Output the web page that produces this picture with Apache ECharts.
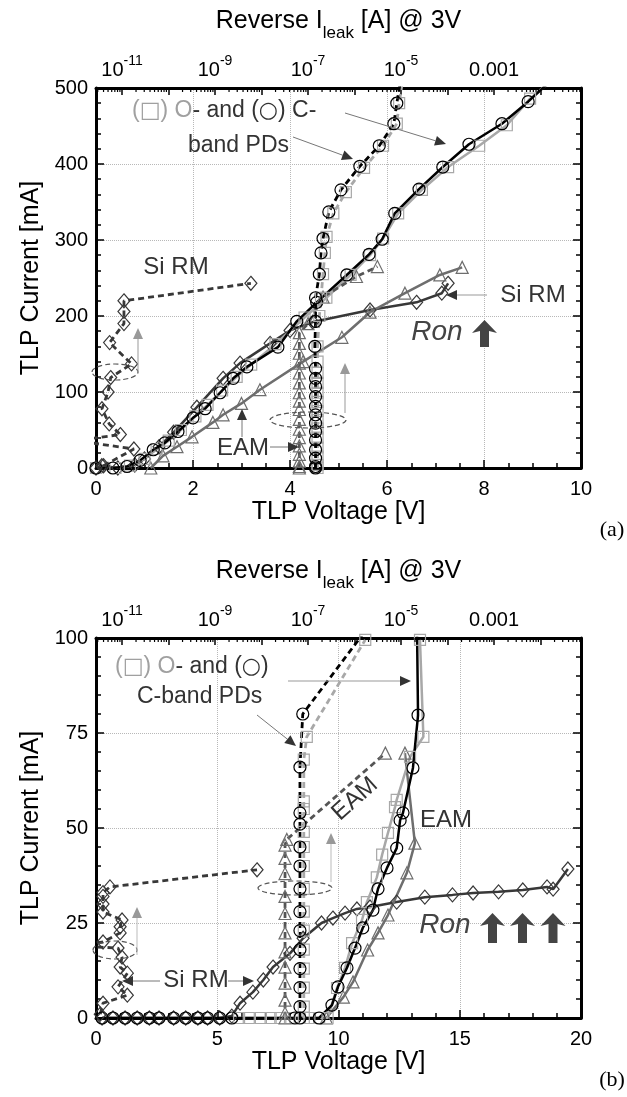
<!DOCTYPE html>
<html>
<head>
<meta charset="utf-8">
<title>TLP I-V and reverse leakage</title>
<script src="https://cdn.jsdelivr.net/npm/echarts@6/dist/echarts.min.js"></script>
<style>
  html, body { margin: 0; padding: 0; background: #fff; }
  #chart { width: 627px; height: 1097px; }
</style>
</head>
<body>
<div id="chart"></div>
<script>
// ---- (a) TLP I-V, volts / mA ----
var cIvV_a = [0, 0.35, 0.64, 0.91, 1.18, 1.42, 1.69, 2.0, 2.25, 2.56, 2.83, 3.11, 3.75, 4.14, 4.55, 5.17, 5.63, 5.9, 6.16, 6.66, 7.15, 7.69, 8.37, 8.91, 9.3];
var cIvI_a = [0, 0, 2, 10, 24, 33, 48, 66, 78, 99, 118, 133, 159, 193, 218, 254, 281, 301, 335, 367, 396, 426, 453, 482, 505];
var oIvV_a = [0, 0.4, 0.7, 1.0, 1.25, 1.5, 1.75, 2.05, 2.3, 2.6, 2.9, 3.2, 3.7, 4.3, 4.75, 5.25, 5.65, 5.92, 6.23, 6.72, 7.26, 7.9, 8.47, 8.95, 9.3];
var oIvI_a = [0, 0, 3, 12, 25, 36, 50, 68, 83, 102, 120, 136, 163, 198, 224, 254, 280, 302, 335, 366, 396, 424, 451, 486, 505];
var eamIvV_a = [1.13, 1.38, 1.67, 1.98, 2.41, 2.62, 3.0, 3.38, 4.27, 5.07, 5.65, 6.37, 7.09, 7.55];
var eamIvI_a = [0, 16, 28, 41, 60, 70, 85, 103, 140, 172, 205, 230, 254, 264];
var siIvV_a = [0, 0.12, 0.45, 0.8, 1.0, 1.3, 1.6, 2.08, 2.62, 2.97, 3.59, 4.0, 4.47, 5.65, 6.61, 7.13, 7.26];
var siIvI_a = [0, 3, 0, 4, 12, 28, 47, 80, 118, 138, 164, 181, 192, 208, 218, 230, 243];

// ---- (a) reverse leakage at 3 V, amps / mA ----
var cLeakA_a = [1.45e-7, 1.45e-7, 1.45e-7, 1.45e-7, 1.45e-7, 1.45e-7, 1.45e-7, 1.45e-7, 1.45e-7, 1.45e-7, 1.45e-7, 1.45e-7, 1.45e-7, 1.4e-7, 1.45e-7, 1.45e-7, 1.75e-7, 1.9e-7, 2.1e-7, 2.8e-7, 5.1e-7, 1.3e-6, 3.4e-6, 7.0e-6, 8.1e-6, 9.5e-6];
var cLeakI_a = [0, 2, 13, 24, 37, 48, 59, 70, 81, 94, 107, 118, 131, 160, 193, 224, 255, 283, 302, 337, 366, 397, 424, 453, 480, 505];
var oLeakA_a = [1.6e-7, 1.6e-7, 1.6e-7, 1.6e-7, 1.6e-7, 1.6e-7, 1.6e-7, 1.6e-7, 1.6e-7, 1.6e-7, 1.6e-7, 1.6e-7, 1.6e-7, 1.6e-7, 1.75e-7, 1.9e-7, 2.1e-7, 2.3e-7, 2.5e-7, 3.5e-7, 6.5e-7, 1.6e-6, 4.1e-6, 8.1e-6, 9.1e-6, 1.05e-5];
var oLeakI_a = [0, 4, 15, 27, 40, 52, 63, 75, 87, 99, 112, 125, 140, 160, 200, 224, 255, 283, 304, 335, 363, 395, 424, 453, 480, 505];
var eamLeakA_a = [6.5e-8, 6.5e-8, 6.5e-8, 6.5e-8, 6.5e-8, 6.5e-8, 6.5e-8, 6.5e-8, 6.5e-8, 6.5e-8, 6.5e-8, 6.5e-8, 6.5e-8, 6.5e-8, 6.5e-8, 6.5e-8, 6.5e-8, 1.0e-7, 2.1e-7, 1.1e-6, 3.1e-6];
var eamLeakI_a = [0, 2, 9, 18, 29, 40, 51, 64, 77, 88, 99, 112, 125, 138, 151, 164, 178, 190, 225, 252, 265];
var siLeakA_a = [4.0e-12, 1.8e-11, 1e-12, 1e-12, 9.2e-12, 5.3e-12, 3.7e-12, 5.0e-12, 5.7e-12, 1.6e-11, 5.4e-12, 1.1e-11, 1.1e-11, 1.1e-11, 5.9e-9];
var siLeakI_a = [3, 25, 36, 38, 44, 58, 78, 100, 119, 137, 165, 190, 206, 220, 243];

// ---- (b) TLP I-V, volts / mA ----
var cIvV_b = [0.25, 0.7, 1.2, 1.7, 2.2, 2.6, 3.2, 3.7, 4.2, 4.6, 5.1, 5.6, 8.2, 9.2, 9.73, 9.98, 10.35, 10.68, 11.0, 11.42, 11.63, 12.0, 12.4, 12.54, 12.66, 13.07, 13.28, 13.24];
var cIvI_b = [0, 0, 0, 0, 0, 0, 0, 0, 0, 0, 0, 0, 0, 0, 3.4, 8.2, 13.2, 18.4, 23.7, 28.4, 34, 39.5, 44.7, 52, 54, 65.8, 79.7, 101];
var oIvV_b = [5.9, 6.3, 6.8, 7.2, 7.6, 8.0, 8.4, 8.8, 9.2, 9.55, 9.94, 10.27, 10.56, 10.97, 11.17, 11.58, 11.8, 12.04, 12.33, 12.4, 12.95, 13.5, 13.36];
var oIvI_b = [0, 0, 0, 0, 0, 0, 0, 0, 0, 0, 7.9, 13.2, 19.7, 25.8, 30.5, 37, 43, 48.7, 55.5, 57.4, 68.7, 74, 99.5];
var eamIvV_b = [9.5, 10.2, 10.6, 11.2, 11.63, 12.04, 12.82, 13.15, 12.74];
var eamIvI_b = [0, 5.5, 9.5, 17.9, 22.4, 27.1, 38.2, 46, 69.7];
var siIvV_b = [0.25, 0.7, 1.2, 1.7, 2.2, 2.6, 3.2, 3.7, 4.2, 4.6, 5.1, 5.6, 5.94, 6.47, 6.9, 7.3, 8.0, 8.54, 9.3, 9.77, 10.27, 10.76, 11.3, 12.4, 13.56, 14.7, 15.55, 16.6, 17.6, 18.6, 18.85, 19.46];
var siIvI_b = [0, 0, 0, 0, 0, 0, 0, 0, 0, 0, 0, 0.5, 3.9, 6.8, 10, 13.4, 17, 21, 25, 26.3, 27.6, 28.7, 29.2, 30.5, 31.8, 32.4, 32.9, 33.2, 33.7, 34.5, 33.9, 39.2];

// ---- (b) reverse leakage at 3 V, amps / mA ----
var cLeakA_b = [6.7e-8, 6.7e-8, 6.7e-8, 6.7e-8, 6.7e-8, 6.7e-8, 6.7e-8, 6.7e-8, 6.7e-8, 6.7e-8, 6.7e-8, 6.7e-8, 6.7e-8, 7.7e-8, 1.5e-6];
var cLeakI_b = [0, 3, 8, 13, 18, 23, 28, 34, 40, 45, 51, 54, 66, 80, 101];
var oLeakA_b = [8.1e-8, 8.1e-8, 8.1e-8, 8.1e-8, 8.1e-8, 8.1e-8, 8.1e-8, 8.1e-8, 8.1e-8, 8.1e-8, 8.1e-8, 8.1e-8, 8.1e-8, 8.1e-8, 9.4e-8, 1.7e-6];
var oLeakI_b = [0, 3, 8, 13, 18, 23, 28, 34, 40, 45, 49, 55, 57, 68, 74, 99.5];
var eamLeakA_b = [3.2e-8, 3.2e-8, 3.2e-8, 3.2e-8, 3.2e-8, 3.2e-8, 3.2e-8, 3.2e-8, 3.2e-8, 3.2e-8, 3.2e-8, 3.2e-8, 3.5e-8, 4.6e-6];
var eamLeakI_b = [0, 1.3, 4.7, 9.2, 13.4, 17.4, 22.4, 27.5, 32, 38, 42, 45.5, 47, 69.7];
var siLeakA_b = [3.4e-12, 3.9e-12, 1.3e-11, 8.2e-12, 1.3e-11, 9.1e-12, 1e-11, 8.2e-12, 1e-12, 3.9e-12, 9.1e-12, 9.1e-12, 1e-11, 3.9e-12, 3.9e-12, 3.9e-12, 3.9e-12, 5.5e-12, 8e-9];
var siLeakI_b = [1, 3.9, 6, 8.2, 11.8, 13.4, 16, 18.4, 19, 20, 22.4, 24, 25.8, 27.9, 30, 32, 33, 34.5, 39];

// ---- axes ----
var leakLogMin = -11.56;   // log10(A) at left edge of top axis
var leakLogMax = -1.13;
var leakDecades = [-12, -11, -10, -9, -8, -7, -6, -5, -4, -3, -2];
var leakMinorMultipliers = [2, 3, 4, 5, 6, 7, 8, 9];

var fontSans = '"Liberation Sans", Arial, sans-serif';
var fontSerif = '"Liberation Serif", "Times New Roman", serif';
var fontGlyph = '"DejaVu Sans", sans-serif';

var C_BLACK = '#000000';
var C_OBAND = '#a8a8a8';
var C_EAM = '#6e6e6e';
var C_SIRM = '#383838';

function xy(xs, ys) {
    return xs.map(function (x, i) { return [x, ys[i]]; });
}
function leakXY(amps, ma) {
    return amps.map(function (a, i) { return [Math.log10(a), ma[i]]; });
}

function lineSeries(o) {
    return {
        type: 'line',
        xAxisIndex: o.x,
        yAxisIndex: o.y,
        data: o.data,
        symbol: o.symbol,
        symbolSize: o.size || 11,
        showAllSymbol: true,
        lineStyle: { color: o.line, width: o.dash ? 2.8 : 2.5, type: o.dash ? [6, 4] : 'solid' },
        itemStyle: { color: 'rgba(255,255,255,0)', borderColor: o.mark || o.line, borderWidth: 1.2 },
        clip: true,
        silent: true,
        z: o.z || 2
    };
}

function minorTicks(yTop) {
    var out = [];
    leakDecades.forEach(function (d) {
        leakMinorMultipliers.forEach(function (m) {
            var e = d + Math.log10(m);
            if (e > leakLogMin && e < leakLogMax) out.push([e, yTop]);
        });
    });
    return out;
}

function minorTickSeries(xi, yi, yTop) {
    return {
        type: 'custom',
        xAxisIndex: xi,
        yAxisIndex: yi,
        data: minorTicks(yTop),
        silent: true,
        z: 6,
        renderItem: function (params, api) {
            var c = api.coord([api.value(0), api.value(1)]);
            return {
                type: 'line',
                shape: { x1: c[0], y1: c[1], x2: c[0], y2: c[1] + 4 },
                style: { stroke: '#000', lineWidth: 1.2 }
            };
        }
    };
}

var frameLine = { show: true, onZero: false, lineStyle: { color: '#000', width: 3 } };
var gridDots = { show: true, lineStyle: { color: '#b8b8b8', type: 'dotted', width: 1 } };

function voltAxis(grid, max, interval, minorSplit) {
    return {
        type: 'value', gridIndex: grid, position: 'bottom',
        min: 0, max: max, interval: interval,
        name: 'TLP Voltage [V]', nameLocation: 'middle', nameGap: 30,
        nameTextStyle: { fontFamily: fontSans, fontSize: 25, color: '#000' },
        axisLine: frameLine,
        axisTick: { show: true, inside: true, length: 8, lineStyle: { color: '#000', width: 1.5 } },
        minorTick: { show: true, splitNumber: minorSplit, length: 5, lineStyle: { color: '#000', width: 1.5 } },
        splitLine: gridDots,
        axisLabel: { fontFamily: fontSans, fontSize: 20, color: '#000', margin: 11 }
    };
}

function leakAxis(grid) {
    return {
        type: 'value', gridIndex: grid, position: 'top',
        min: leakLogMin, max: leakLogMax, splitNumber: 10, minInterval: 1, maxInterval: 1,
        name: '{t|Reverse I}{sub|leak}{t| [A] @ 3V}',
        nameLocation: 'middle', nameGap: 49,
        nameTextStyle: {
            fontFamily: fontSans, fontSize: 25, color: '#000',
            rich: {
                t: { fontFamily: fontSans, fontSize: 25, color: '#000', lineHeight: 30, verticalAlign: 'top' },
                sub: { fontFamily: fontSans, fontSize: 17, color: '#000', lineHeight: 20, padding: [16, 0, 0, 0], verticalAlign: 'top' }
            }
        },
        axisLine: frameLine,
        axisTick: { show: true, inside: true, length: 7, lineStyle: { color: '#000', width: 1.5 } },
        splitLine: { show: false },
        axisLabel: {
            margin: 8,
            formatter: function (v) {
                var r = Math.round(v);
                if (Math.abs(v - r) > 1e-6 || r % 2 === 0) return '';
                if (r === -3) return '{b|0.001}';
                return '{b|10}{sup|' + r + '}';
            },
            rich: {
                b: { fontFamily: fontSans, fontSize: 20, color: '#000', lineHeight: 26, verticalAlign: 'bottom' },
                sup: { fontFamily: fontSans, fontSize: 14, color: '#000', lineHeight: 12, verticalAlign: 'top' }
            }
        }
    };
}

function currentAxis(grid, max, interval, minorSplit, right) {
    return {
        type: 'value', gridIndex: grid, position: right ? 'right' : 'left',
        min: 0, max: max, interval: interval,
        name: right ? '' : 'TLP Current [mA]', nameLocation: 'middle', nameGap: 52, nameRotate: 90,
        nameTextStyle: { fontFamily: fontSans, fontSize: 25, color: '#000' },
        axisLine: frameLine,
        axisTick: { show: true, inside: true, length: 8, lineStyle: { color: '#000', width: 1.5 } },
        minorTick: { show: true, splitNumber: minorSplit, length: 5, lineStyle: { color: '#000', width: 1.5 } },
        splitLine: right ? { show: false } : gridDots,
        axisLabel: { show: !right, fontFamily: fontSans, fontSize: 20, color: '#000', margin: 8 }
    };
}

// ---- annotations ----
function txt(x, y, s, size, color, opt) {
    opt = opt || {};
    var family = opt.family || fontSans;
    return {
        type: 'text', x: x, y: y, rotation: opt.rot || 0, silent: true, z: 100,
        style: {
            text: s, fill: color,
            font: (opt.italic ? 'italic ' : '') + size + 'px ' + family,
            align: opt.align || 'center', verticalAlign: 'middle',
            textAlign: opt.align || 'center', textVerticalAlign: 'middle',
            rich: opt.rich
        }
    };
}
var pdRich = {
    g: { fill: '#a0a0a0', fontSize: 23, fontFamily: fontSans },
    gs: { fill: '#a0a0a0', fontSize: 22, fontFamily: fontGlyph },
    d: { fill: '#333333', fontSize: 23, fontFamily: fontSans },
    ds: { fill: '#333333', fontSize: 22, fontFamily: fontGlyph }
};
function arrow(x1, y1, x2, y2, lineColor, headColor) {
    var dx = x2 - x1, dy = y2 - y1, L = Math.sqrt(dx * dx + dy * dy);
    var ux = dx / L, uy = dy / L, hl = 11, hw = 5;
    var bx = x2 - ux * hl, by = y2 - uy * hl;
    return [
        { type: 'line', silent: true, z: 99, shape: { x1: x1, y1: y1, x2: bx, y2: by }, style: { stroke: lineColor, lineWidth: 1 } },
        { type: 'polygon', silent: true, z: 99, shape: { points: [[x2, y2], [bx - uy * hw, by + ux * hw], [bx + uy * hw, by - ux * hw]] }, style: { fill: headColor } }
    ];
}
function ring(cx, cy, rx, ry) {
    return { type: 'ellipse', silent: true, z: 99, shape: { cx: cx, cy: cy, rx: rx, ry: ry },
        style: { fill: 'none', stroke: '#555', lineWidth: 1.2, lineDash: [5, 3] } };
}
function boldUp(cx, tip, base) {
    return { type: 'polygon', silent: true, z: 99,
        shape: { points: [[cx, tip], [cx + 12.5, tip + 13], [cx + 4.5, tip + 11], [cx + 4.5, base], [cx - 4.5, base], [cx - 4.5, tip + 11], [cx - 12.5, tip + 13]] },
        style: { fill: '#444' } };
}

var graphics = [].concat(
    // (a)
    txt(132, 111, '{g|(}{gs|□}{g|) O}{d|- and (}{ds|○}{d|) C-}', 23, '#333', { align: 'left', rich: pdRich }),
    txt(188, 146, 'band PDs', 23, '#333', { align: 'left' }),
    arrow(345, 113, 446, 144, '#777', '#333'),
    arrow(293, 137, 353, 159, '#777', '#333'),
    txt(176, 267, 'Si RM', 24, '#333'),
    ring(115, 372, 23, 8),
    arrow(138, 372, 138, 328, '#999', '#999'),
    ring(308, 420, 38, 8),
    arrow(345, 413, 345, 363, '#999', '#999'),
    txt(243, 448, 'EAM', 24, '#333'),
    arrow(270, 447, 299, 447, '#777', '#333'),
    arrow(242, 437, 242, 409, '#777', '#333'),
    txt(533, 295, 'Si RM', 24, '#333'),
    arrow(487, 295, 446, 295, '#999', '#333'),
    txt(437, 332, 'Ron', 28, '#444', { italic: true }),
    boldUp(484.5, 320, 347),
    txt(612, 530, '(a)', 22, '#000', { family: fontSerif }),
    // (b)
    txt(115, 667, '{g|(}{gs|□}{g|) O}{d|- and (}{ds|○}{d|)}', 23, '#333', { align: 'left', rich: pdRich }),
    txt(137, 697, 'C-band PDs', 23, '#333', { align: 'left' }),
    arrow(257, 715, 296, 746, '#777', '#333'),
    arrow(288, 681, 411, 681, '#999', '#333'),
    txt(355, 799, 'EAM', 24, '#333', { rot: 42 * Math.PI / 180 }),
    txt(446, 820, 'EAM', 24, '#333'),
    ring(295, 888, 37, 7),
    arrow(331, 882, 331, 833, '#bbb', '#999'),
    ring(115, 950, 22, 9),
    arrow(137, 955, 137, 907, '#bbb', '#999'),
    txt(196, 980, 'Si RM', 24, '#333'),
    arrow(160, 981, 122, 981, '#777', '#333'),
    arrow(228, 981, 254, 981, '#777', '#333'),
    txt(445, 925, 'Ron', 28, '#444', { italic: true }),
    boldUp(492.5, 913, 943),
    boldUp(522.5, 913, 943),
    boldUp(553, 913, 943),
    txt(612, 1080, '(b)', 22, '#000', { family: fontSerif })
);

var option = {
    animation: false,
    backgroundColor: '#fff',
    textStyle: { fontFamily: fontSans },
    grid: [
        { left: 96, top: 88, width: 485, height: 380 },
        { left: 96, top: 638, width: 485, height: 380 }
    ],
    xAxis: [
        voltAxis(0, 10, 2, 4),
        leakAxis(0),
        voltAxis(1, 20, 5, 5),
        leakAxis(1)
    ],
    yAxis: [
        currentAxis(0, 500, 100, 5, false),
        currentAxis(0, 500, 100, 5, true),
        currentAxis(1, 100, 25, 5, false),
        currentAxis(1, 100, 25, 5, true)
    ],
    series: [
        // (a) I-V
        lineSeries({ x: 0, y: 0, data: xy(siIvV_a, siIvI_a), line: C_SIRM, symbol: 'diamond', size: [12, 14] }),
        lineSeries({ x: 0, y: 0, data: xy(eamIvV_a, eamIvI_a), line: C_EAM, symbol: 'triangle', size: 12 }),
        lineSeries({ x: 0, y: 0, data: xy(oIvV_a, oIvI_a), line: C_OBAND, symbol: 'rect', size: 11 }),
        lineSeries({ x: 0, y: 0, data: xy(cIvV_a, cIvI_a), line: C_BLACK, symbol: 'circle', size: 12 }),
        // (a) leakage
        lineSeries({ x: 1, y: 0, data: leakXY(siLeakA_a, siLeakI_a), line: C_SIRM, dash: true, symbol: 'diamond', size: [12, 14] }),
        lineSeries({ x: 1, y: 0, data: leakXY(eamLeakA_a, eamLeakI_a), line: '#555', mark: C_EAM, dash: true, symbol: 'triangle', size: 12 }),
        lineSeries({ x: 1, y: 0, data: leakXY(oLeakA_a, oLeakI_a), line: C_OBAND, dash: true, symbol: 'rect', size: 11 }),
        lineSeries({ x: 1, y: 0, data: leakXY(cLeakA_a, cLeakI_a), line: C_BLACK, dash: true, symbol: 'circle', size: 12 }),
        // (b) I-V
        lineSeries({ x: 2, y: 2, data: xy(siIvV_b, siIvI_b), line: C_SIRM, symbol: 'diamond', size: [12, 14] }),
        lineSeries({ x: 2, y: 2, data: xy(eamIvV_b, eamIvI_b), line: C_EAM, symbol: 'triangle', size: 12 }),
        lineSeries({ x: 2, y: 2, data: xy(oIvV_b, oIvI_b), line: C_OBAND, symbol: 'rect', size: 11 }),
        lineSeries({ x: 2, y: 2, data: xy(cIvV_b, cIvI_b), line: C_BLACK, symbol: 'circle', size: 12 }),
        // (b) leakage
        lineSeries({ x: 3, y: 2, data: leakXY(siLeakA_b, siLeakI_b), line: C_SIRM, dash: true, symbol: 'diamond', size: [12, 14] }),
        lineSeries({ x: 3, y: 2, data: leakXY(eamLeakA_b, eamLeakI_b), line: '#555', mark: C_EAM, dash: true, symbol: 'triangle', size: 12 }),
        lineSeries({ x: 3, y: 2, data: leakXY(oLeakA_b, oLeakI_b), line: C_OBAND, dash: true, symbol: 'rect', size: 11 }),
        lineSeries({ x: 3, y: 2, data: leakXY(cLeakA_b, cLeakI_b), line: C_BLACK, dash: true, symbol: 'circle', size: 12 }),
        // log minor ticks on the leakage axes
        minorTickSeries(1, 0, 500),
        minorTickSeries(3, 2, 100)
    ],
    graphic: graphics
};

var chart = echarts.init(document.getElementById('chart'), null, { renderer: 'canvas' });
chart.setOption(option);
</script>
</body>
</html>
